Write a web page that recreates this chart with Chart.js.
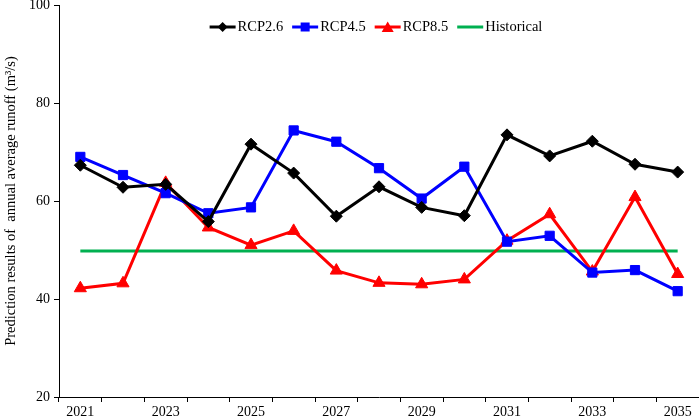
<!DOCTYPE html>
<html>
<head>
<meta charset="utf-8">
<script src="https://cdn.jsdelivr.net/npm/chart.js@4/dist/chart.umd.min.js"></script>
<style>
  html, body { margin: 0; padding: 0; background: #fff; }
  #wrap { width: 699px; height: 418px; }
</style>
</head>
<body>
<div id="wrap"><canvas id="grafica" width="699" height="418"></canvas></div>
<script>
const years = ['2021', '2022', '2023', '2024', '2025', '2026', '2027', '2028',
               '2029', '2030', '2031', '2032', '2033', '2034', '2035'];
const rcp26 = [67.3, 62.8, 63.4, 55.8, 71.6, 65.7, 56.9, 62.9, 58.7, 57.0, 73.5, 69.2, 72.2, 67.5, 65.9];
const rcp45 = [69.0, 65.3, 61.6, 57.5, 58.7, 74.4, 72.1, 66.7, 60.5, 67.0, 51.7, 52.9, 45.4, 45.9, 41.6];
const rcp85 = [42.2, 43.2, 63.7, 54.6, 51.0, 53.9, 45.8, 43.3, 43.0, 44.0, 51.9, 57.3, 45.6, 60.8, 45.1];
const historical = [49.8, 49.8, 49.8, 49.8, 49.8, 49.8, 49.8, 49.8, 49.8, 49.8, 49.8, 49.8, 49.8, 49.8, 49.8];
const yTicks = [20, 40, 60, 80, 100];

const names = ['RCP2.6', 'RCP4.5', 'RCP8.5', 'Historical'];
const colors = ['#000000', '#0000ff', '#ff0000', '#00b050'];
const markers = ['rectRot', 'rect', 'triangle', false];

const FONT = '"Liberation Serif", "Times New Roman", serif';
Chart.defaults.font.family = FONT;
Chart.defaults.color = '#000';

// legend drawn by hand: line with marker, then the name, centred at the top of the plot
const draw_marker = (ctx, marker, x, y) => {
    ctx.beginPath();
    if (marker === 'rectRot') {
        ctx.moveTo(x, y - 5); ctx.lineTo(x + 5, y); ctx.lineTo(x, y + 5); ctx.lineTo(x - 5, y);
    } else if (marker === 'rect') {
        ctx.rect(x - 4.5, y - 4.5, 9, 9);
    } else if (marker === 'triangle') {
        ctx.moveTo(x, y - 5.5); ctx.lineTo(x + 6, y + 5); ctx.lineTo(x - 6, y + 5);
    }
    ctx.closePath();
    ctx.fill();
};

const legendPlugin = {
    id: 'lineLegend',
    afterDraw(chart) {
        const ctx = chart.ctx;
        const area = chart.chartArea;
        const lineW = 26, gap = 2, space = 9;
        ctx.save();
        ctx.font = '14.5px ' + FONT;
        const widths = names.map(n => lineW + gap + ctx.measureText(n).width);
        const total = widths.reduce((a, b) => a + b, 0) + space * (names.length - 1);
        let x = (area.left + area.right) / 2 - 3 - total / 2;
        const y = 27;
        names.forEach((n, i) => {
            ctx.strokeStyle = colors[i];
            ctx.fillStyle = colors[i];
            ctx.lineWidth = 3;
            ctx.beginPath(); ctx.moveTo(x, y); ctx.lineTo(x + lineW, y); ctx.stroke();
            if (markers[i]) draw_marker(ctx, markers[i], x + lineW / 2, y);
            ctx.fillStyle = '#000';
            ctx.textBaseline = 'middle';
            ctx.textAlign = 'left';
            ctx.fillText(n, x + lineW + gap, y);
            x += widths[i] + space;
        });
        ctx.restore();
    }
};

const series = [rcp26, rcp45, rcp85, historical];
const datasets = series.map((d, i) => ({
    label: names[i],
    data: d,
    borderColor: colors[i],
    backgroundColor: colors[i],
    borderWidth: 3,
    pointStyle: markers[i] || 'circle',
    pointRadius: markers[i] ? (markers[i] === 'rect' ? 6.5 : markers[i] === 'triangle' ? 7 : 6) : 0,
    pointBorderWidth: 1,
    tension: 0,
    fill: false
}));

const config = {
    type: 'line',
    data: { labels: years, datasets: datasets },
    plugins: [legendPlugin],
    options: {
        responsive: false,
        animation: false,
        layout: { padding: 0, autoPadding: false },
        plugins: {
            tooltip: { enabled: false },
            legend: { display: false }
        },
        scales: {
            x: {
                type: 'category',
                offset: true,
                grid: {
                    offset: true,
                    drawOnChartArea: false,
                    drawTicks: true,
                    tickLength: 5,
                    tickColor: '#000'
                },
                border: { color: '#000', width: 1 },
                ticks: {
                    autoSkip: false,
                    maxRotation: 0,
                    padding: 2,
                    font: { size: 14 },
                    color: '#000',
                    callback: function (v, i) { return i % 2 === 0 ? this.getLabelForValue(v) : ''; }
                },
                afterFit: (s) => { s.height = 21; s.paddingLeft = 0; s.paddingRight = 0; }
            },
            y: {
                min: 20,
                max: 100,
                afterBuildTicks: (s) => { s.ticks = yTicks.map(v => ({ value: v })); },
                grid: {
                    drawOnChartArea: false,
                    drawTicks: true,
                    tickLength: 5,
                    tickColor: '#000'
                },
                border: { color: '#000', width: 1 },
                ticks: { font: { size: 14 }, color: '#000', padding: 4 },
                title: {
                    display: true,
                    text: 'Prediction results of  annual average runoff (m\u00b3/s)',
                    font: { size: 14.5 },
                    color: '#000',
                    padding: { top: 2, bottom: 4 }
                },
                afterFit: (s) => { s.width = 59; s.paddingTop = 5; s.paddingBottom = 0; }
            }
        }
    }
};

const graph = document.querySelector('#grafica');
const myChart = new Chart(graph, config);
</script>
</body>
</html>
